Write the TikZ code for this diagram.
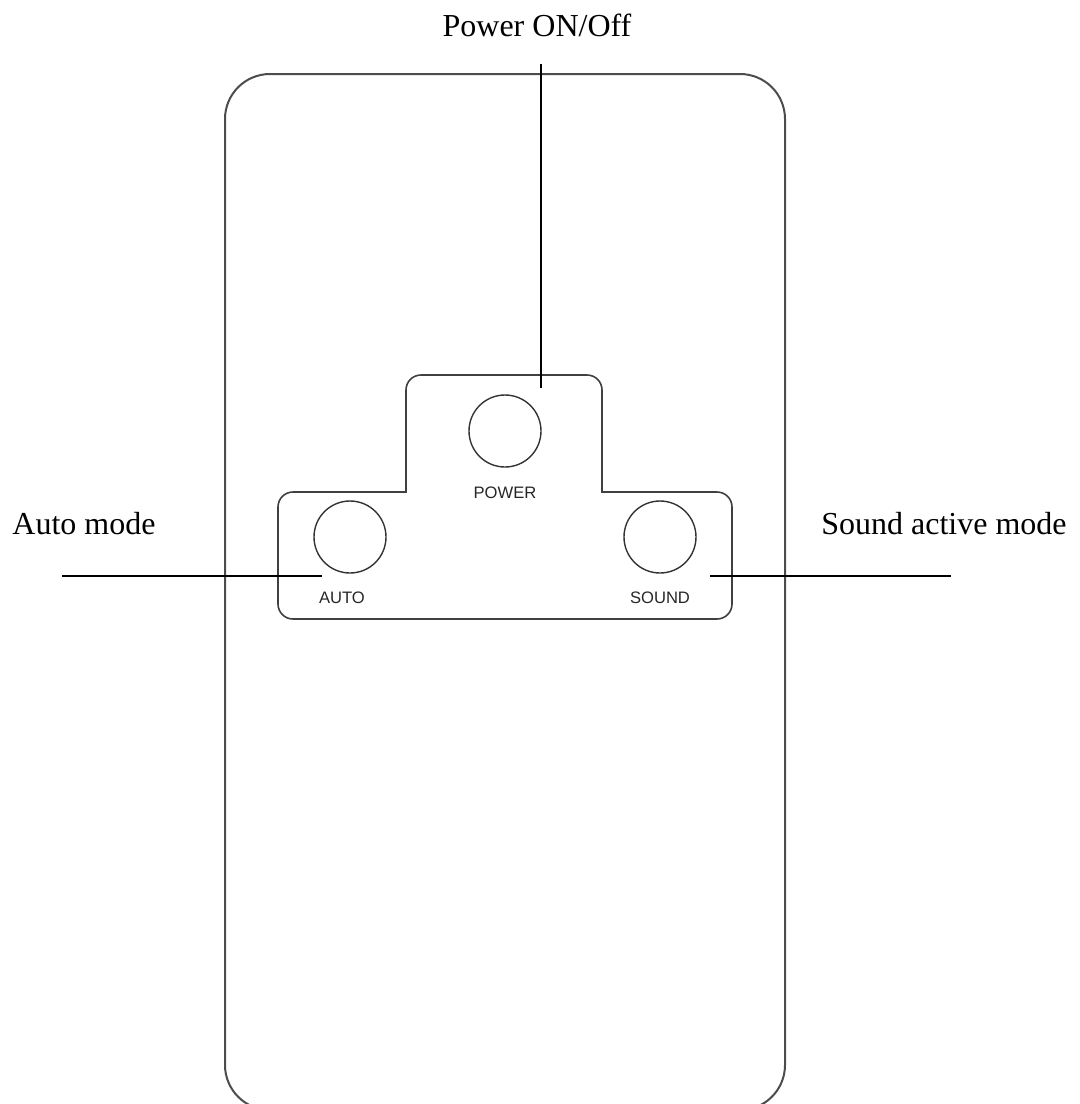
\documentclass[tikz,border=0pt]{standalone}
\usepackage{fontspec}
\setmainfont{Liberation Serif}
\newfontfamily\keyfont{Liberation Sans}
\usetikzlibrary{positioning}
\tikzset{
  body/.style={draw=black!70, line width=1pt, rounded corners=22.5pt},
  panel/.style={draw=black!75, line width=0.8pt},
  button/.style={draw=black!80, circle, line width=0.7pt, minimum size=36pt, inner sep=0pt},
  keylabel/.style={font=\keyfont\fontsize{8.3}{10}\selectfont, text=black!85, inner sep=0pt},
  callout/.style={font=\fontsize{16}{19}\selectfont, inner sep=0pt},
  leader/.style={draw=black, line width=0.75pt}
}
\begin{document}
\begin{tikzpicture}[x=0.5pt, y=-0.5pt]
  \useasboundingbox (0,0) rectangle (1080,1104);
  \clip (0,0) rectangle (1080,1104);
  % remote body
  \draw[body] (225,74) rectangle (785,1110);
  % key panel, outer corners rounded
  \draw[panel] (406,492) [rounded corners=7.5pt] -- (406,375) -- (602,375)
    [sharp corners] -- (602,492) [rounded corners=7.5pt] -- (732,492)
    -- (732,619) -- (278,619) -- (278,492) [sharp corners] -- cycle;
  % buttons
  \node[button] (pwr) at (505,431) {};
  \node[button] (auto) at (350,537) {};
  \node[button] (snd) at (660,537) {};
  \node[keylabel, below=9.5pt of pwr] (pwrkey) {POWER};
  \node[keylabel, below=9pt of auto, xshift=-4pt] (autokey) {AUTO};
  \node[keylabel, below=9pt of snd] (sndkey) {SOUND};
  % callouts
  \node[callout] (pwrtxt) at (537,25) {Power ON/Off};
  \node[callout] (autotxt) at (84,524) {Auto mode};
  \node[callout] (sndtxt) at (944,524) {Sound active mode};
  \coordinate (pwrtop) at (541,64);
  \coordinate (pwrtip) at (541,388);
  \coordinate (autoend) at (62,576);
  \coordinate (autotip) at (322,576);
  \coordinate (sndtip) at (710,576);
  \coordinate (sndend) at (951,576);
  \draw[leader] (pwrtop) -- (pwrtip);
  \draw[leader] (autoend) -- (autotip);
  \draw[leader] (sndtip) -- (sndend);
\end{tikzpicture}
\end{document}
